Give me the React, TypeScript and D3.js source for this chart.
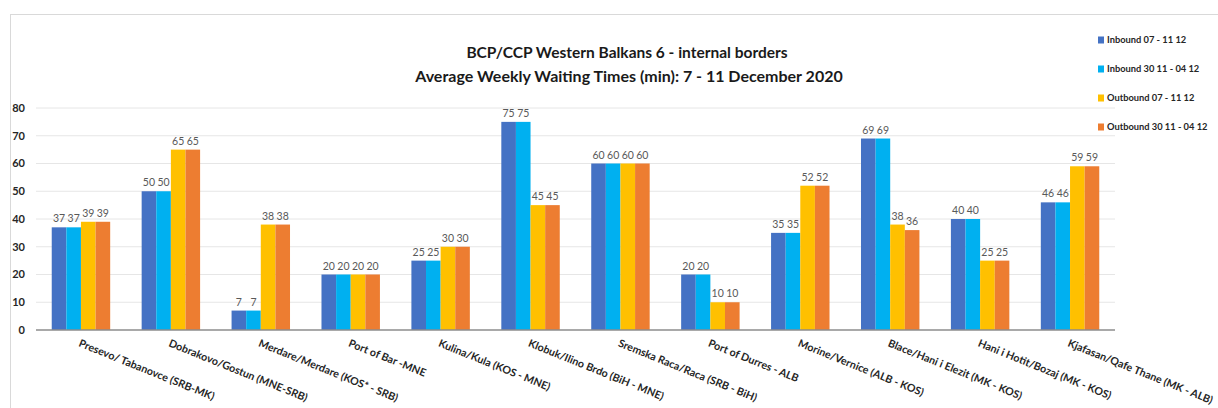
import * as d3 from "d3";

const categories = [
  "Presevo/ Tabanovce (SRB-MK)",
  "Dobrakovo/Gostun (MNE-SRB)",
  "Merdare/Merdare (KOS* - SRB)",
  "Port of Bar -MNE",
  "Kulina/Kula (KOS - MNE)",
  "Klobuk/Ilino Brdo (BiH - MNE)",
  "Sremska Raca/Raca (SRB - BiH)",
  "Port of Durres - ALB",
  "Morine/Vernice (ALB - KOS)",
  "Blace/Hani i Elezit (MK - KOS)",
  "Hani i Hotit/Bozaj (MK - KOS)",
  "Kjafasan/Qafe Thane (MK - ALB)",
];

const seriesNames = [
  "Inbound 07 - 11 12",
  "Inbound 30 11 - 04 12",
  "Outbound 07 - 11 12",
  "Outbound 30 11 - 04 12",
];

const inbound0711 = [37, 50, 7, 20, 25, 75, 60, 20, 35, 69, 40, 46];
const inbound3004 = [37, 50, 7, 20, 25, 75, 60, 20, 35, 69, 40, 46];
const outbound0711 = [39, 65, 38, 20, 30, 45, 60, 10, 52, 38, 25, 59];
const outbound3004 = [39, 65, 38, 20, 30, 45, 60, 10, 52, 36, 25, 59];

const yTicks = [0, 10, 20, 30, 40, 50, 60, 70, 80];

const colors = ["#4472C4", "#00B0F0", "#FFC000", "#ED7D31"];

const W = 1218;
const H = 408;
const plot = { left: 36, right: 1115, top: 108, bottom: 330 };
const FONT = "Lato, 'Open Sans', sans-serif";

export default function App() {
  const series = [inbound0711, inbound3004, outbound0711, outbound3004];

  const x = d3
    .scaleBand<string>()
    .domain(categories)
    .range([plot.left, plot.right])
    .paddingInner(0.35)
    .paddingOuter(0.175);
  const inner = d3
    .scaleBand<number>()
    .domain(d3.range(series.length))
    .range([0, x.bandwidth()]);
  const y = d3.scaleLinear().domain([0, 80]).range([plot.bottom, plot.top]);

  return (
    <svg
      width={W}
      height={H}
      style={{ position: "absolute", left: 0, top: 0, background: "#fff" }}
      fontFamily={FONT}
    >
      <rect x={10.5} y={14.5} width={W + 20} height={H + 20} fill="#fff" stroke="#d9d9d9" />

      {/* title */}
      <text x={627} y={58} textAnchor="middle" fontSize={15.5} fontWeight="bold" fill="#1a1a1a">
        BCP/CCP Western Balkans 6 - internal borders
      </text>
      <text x={629} y={82} textAnchor="middle" fontSize={16} fontWeight="bold" fill="#1a1a1a">
        Average Weekly Waiting Times (min): 7 - 11 December 2020
      </text>

      {/* gridlines + y labels */}
      {yTicks.map((t) => (
        <g key={t}>
          {t !== 0 && (
            <line x1={plot.left} x2={plot.right} y1={y(t)} y2={y(t)} stroke="#e6e6e6" strokeWidth={1} />
          )}
          <text x={25} y={y(t)} dy="0.35em" textAnchor="end" fontSize={11} fontWeight="bold" fill="#262626">
            {t}
          </text>
        </g>
      ))}

      {/* bars */}
      {categories.map((c, i) => (
        <g key={c} transform={`translate(${x(c)},0)`}>
          {series.map((s, j) => (
            <g key={j}>
              <rect
                x={inner(j)}
                y={y(s[i])}
                width={inner.bandwidth()}
                height={y(0) - y(s[i])}
                fill={colors[j]}
              />
              <text
                x={(inner(j) ?? 0) + inner.bandwidth() / 2}
                y={y(s[i]) - 5}
                textAnchor="middle"
                fontSize={10.5}
                fill="#595959"
              >
                {s[i]}
              </text>
            </g>
          ))}
        </g>
      ))}

      {/* axis line */}
      <line x1={plot.left} x2={plot.right} y1={y(0)} y2={y(0)} stroke="#8c8c8c" strokeWidth={1.5} />

      {/* category labels */}
      {categories.map((c) => {
        const cx = (x(c) ?? 0) + x.bandwidth() / 2 - 3;
        const cy = 346;
        return (
          <text
            key={c}
            x={cx}
            y={cy}
            transform={`rotate(22, ${cx}, ${cy})`}
            fontSize={10.7}
            fontWeight="bold"
            fill="#262626"
          >
            {c}
          </text>
        );
      })}

      {/* legend */}
      {seriesNames.map((n, j) => (
        <g key={n} transform={`translate(1098, ${40 + j * 29})`}>
          <rect x={0} y={-3.5} width={6} height={7} fill={colors[j]} />
          <text x={9} y={0} dy="0.35em" fontSize={9.3} fontWeight="bold" fill="#262626">
            {n}
          </text>
        </g>
      ))}
    </svg>
  );
}
